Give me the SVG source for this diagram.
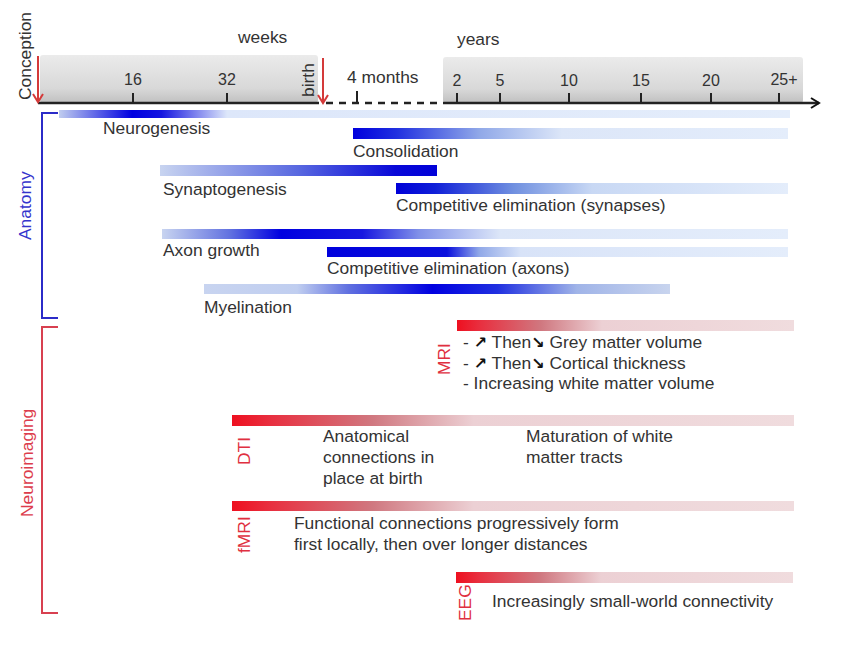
<svg xmlns="http://www.w3.org/2000/svg" width="850" height="653" viewBox="0 0 850 653">
<style>
text{font-family:"Liberation Sans",Arial,sans-serif;font-size:17.4px;fill:#333}
.tk{font-size:16px}
.an{fill:#3434cc}
.ni{fill:#dc3c4c}
.mod{fill:#e03040}
.tick{stroke:#222;stroke-width:2}
.ar{font-family:"DejaVu Sans",sans-serif;font-weight:bold;font-size:16px;fill:#111}
</style>
<defs>
<linearGradient id="gbox" x1="0" y1="0" x2="0" y2="1">
<stop offset="0" stop-color="#ebebeb"/><stop offset="0.7" stop-color="#d8d8d8"/><stop offset="1" stop-color="#c0c0c0"/>
</linearGradient>
<linearGradient id="g1"><stop offset="0" stop-color="#c0cdef"/><stop offset="0.10" stop-color="#0000e0"/><stop offset="0.14" stop-color="#1515e0"/><stop offset="0.23" stop-color="#dde7fa"/><stop offset="1" stop-color="#e4edfb"/></linearGradient>
<linearGradient id="g2"><stop offset="0" stop-color="#0000dd"/><stop offset="0.1" stop-color="#2030e0"/><stop offset="0.29" stop-color="#90a8e8"/><stop offset="0.48" stop-color="#dce6f8"/><stop offset="1" stop-color="#e4edfb"/></linearGradient>
<linearGradient id="g3"><stop offset="0" stop-color="#c8d4f0"/><stop offset="0.5" stop-color="#5868e0"/><stop offset="0.85" stop-color="#0808d8"/><stop offset="1" stop-color="#0000d8"/></linearGradient>
<linearGradient id="g4"><stop offset="0" stop-color="#0000d8"/><stop offset="0.1" stop-color="#1020d8"/><stop offset="0.3" stop-color="#7090e0"/><stop offset="0.5" stop-color="#c8d8f4"/><stop offset="1" stop-color="#e4edfb"/></linearGradient>
<linearGradient id="g5"><stop offset="0" stop-color="#c8d4f0"/><stop offset="0.11" stop-color="#6070e0"/><stop offset="0.19" stop-color="#0000e0"/><stop offset="0.32" stop-color="#1818e0"/><stop offset="0.41" stop-color="#8090e8"/><stop offset="0.54" stop-color="#dce6f8"/><stop offset="1" stop-color="#e4edfb"/></linearGradient>
<linearGradient id="g6"><stop offset="0" stop-color="#0000dd"/><stop offset="0.26" stop-color="#0a10dd"/><stop offset="0.33" stop-color="#90a8e8"/><stop offset="0.42" stop-color="#d8e3f8"/><stop offset="1" stop-color="#e4edfb"/></linearGradient>
<linearGradient id="g7"><stop offset="0" stop-color="#c8d4f0"/><stop offset="0.2" stop-color="#c0cef0"/><stop offset="0.31" stop-color="#6070e0"/><stop offset="0.49" stop-color="#0000e0"/><stop offset="0.63" stop-color="#2030e0"/><stop offset="0.8" stop-color="#a0b4e8"/><stop offset="1" stop-color="#c8d4ee"/></linearGradient>
<linearGradient id="gr"><stop offset="0" stop-color="#ee1020"/><stop offset="0.07" stop-color="#e83040"/><stop offset="0.25" stop-color="#d07880"/><stop offset="0.43" stop-color="#ecd0d4"/><stop offset="1" stop-color="#f0dcde"/></linearGradient>
<marker id="ahk" markerWidth="12" markerHeight="12" refX="10" refY="6" orient="auto" markerUnits="userSpaceOnUse">
<path d="M2,1 L10,6 L2,11" fill="none" stroke="#111" stroke-width="2"/>
</marker>
<marker id="ahr" markerWidth="12" markerHeight="12" refX="10" refY="6" orient="auto" markerUnits="userSpaceOnUse">
<path d="M2,1 L10,6 L2,11" fill="none" stroke="#d43a3a" stroke-width="2"/>
</marker>
</defs>
<rect width="850" height="653" fill="#fff"/>

<g id="timeline">
<rect x="40" y="55" width="278" height="48" rx="3" fill="url(#gbox)"/>
<rect x="443" y="57" width="360" height="46" rx="3" fill="url(#gbox)"/>
<text x="238" y="43">weeks</text>
<text x="457" y="45">years</text>
<text transform="rotate(-90 31 100)" x="31" y="100">Conception</text>
<text transform="rotate(-90 314 97)" x="314" y="97">birth</text>
<text class="tk" x="133" y="85" text-anchor="middle">16</text>
<text class="tk" x="227" y="85" text-anchor="middle">32</text>
<text x="347" y="83">4 months</text>
<text class="tk" x="457" y="86" text-anchor="middle">2</text>
<text class="tk" x="500" y="86" text-anchor="middle">5</text>
<text class="tk" x="569" y="86" text-anchor="middle">10</text>
<text class="tk" x="641" y="86" text-anchor="middle">15</text>
<text class="tk" x="711" y="86" text-anchor="middle">20</text>
<text class="tk" x="784" y="85" text-anchor="middle">25+</text>
<line class="tick" x1="133" y1="93" x2="133" y2="103"/>
<line class="tick" x1="227" y1="93" x2="227" y2="103"/>
<line class="tick" x1="357" y1="91" x2="357" y2="103"/>
<line class="tick" x1="457" y1="93" x2="457" y2="103"/>
<line class="tick" x1="500" y1="93" x2="500" y2="103"/>
<line class="tick" x1="569" y1="93" x2="569" y2="103"/>
<line class="tick" x1="641" y1="93" x2="641" y2="103"/>
<line class="tick" x1="711" y1="93" x2="711" y2="103"/>
<line class="tick" x1="779" y1="93" x2="779" y2="103"/>
</g>

<g id="connectors">
<line x1="38" y1="103" x2="319" y2="103" stroke="#222" stroke-width="2.5"/>
<line x1="326" y1="103" x2="441" y2="103" stroke="#222" stroke-width="2.5" stroke-dasharray="7,6"/>
<line x1="443" y1="103" x2="819" y2="103" stroke="#222" stroke-width="2.5" marker-end="url(#ahk)"/>
<line x1="38" y1="56" x2="38" y2="102" stroke="#d43a3a" stroke-width="2" marker-end="url(#ahr)"/>
<line x1="323" y1="58" x2="323" y2="103" stroke="#d43a3a" stroke-width="2" marker-end="url(#ahr)"/>
</g>

<g id="anatomy-bracket">
<path d="M58,113 H42 V318 H58" fill="none" stroke="#2b2bc8" stroke-width="2"/>
<text class="an" transform="rotate(-90 31 240)" x="31" y="240">Anatomy</text>
</g>
<g id="neuroimaging-bracket">
<path d="M58,327 H42 V613 H58" fill="none" stroke="#d84050" stroke-width="2"/>
<text class="ni" transform="rotate(-90 33 517)" x="33" y="517">Neuroimaging</text>
</g>

<g id="neurogenesis">
<rect x="59" y="110" width="731" height="8" fill="url(#g1)"/>
<text x="103" y="134">Neurogenesis</text>
</g>
<g id="consolidation">
<rect x="353" y="128" width="435" height="11" fill="url(#g2)"/>
<text x="353" y="157">Consolidation</text>
</g>
<g id="synaptogenesis">
<rect x="160" y="165" width="277" height="11" fill="url(#g3)"/>
<text x="163" y="195">Synaptogenesis</text>
</g>
<g id="elim-synapses">
<rect x="396" y="183" width="392" height="11" fill="url(#g4)"/>
<text x="396" y="211">Competitive elimination (synapses)</text>
</g>
<g id="axon-growth">
<rect x="162" y="229" width="626" height="10" fill="url(#g5)"/>
<text x="163" y="256">Axon growth</text>
</g>
<g id="elim-axons">
<rect x="327" y="247" width="461" height="10" fill="url(#g6)"/>
<text x="327" y="274">Competitive elimination (axons)</text>
</g>
<g id="myelination">
<rect x="204" y="284" width="466" height="10" fill="url(#g7)"/>
<text x="204" y="313">Myelination</text>
</g>

<g id="mri">
<rect x="457" y="320" width="337" height="11" fill="url(#gr)"/>
<text class="mod" transform="rotate(-90 450 375)" x="450" y="375">MRI</text>
<text x="463" y="348">- <tspan class="ar">↗</tspan> Then<tspan class="ar">↘</tspan> Grey matter volume</text>
<text x="463" y="368.5">- <tspan class="ar">↗</tspan> Then<tspan class="ar">↘</tspan> Cortical thickness</text>
<text x="463" y="389">- Increasing white matter volume</text>
</g>
<g id="dti">
<rect x="232" y="415" width="562" height="11" fill="url(#gr)"/>
<text class="mod" transform="rotate(-90 250 465)" x="250" y="465">DTI</text>
<text x="323" y="442">Anatomical</text>
<text x="323" y="463">connections in</text>
<text x="323" y="484">place at birth</text>
<text x="526" y="442">Maturation of white</text>
<text x="526" y="463">matter tracts</text>
</g>
<g id="fmri">
<rect x="232" y="501" width="562" height="10" fill="url(#gr)"/>
<text class="mod" transform="rotate(-90 250 553)" x="250" y="553">fMRI</text>
<text x="294" y="529">Functional connections progressively form</text>
<text x="294" y="550">first locally, then over longer distances</text>
</g>
<g id="eeg">
<rect x="456" y="572" width="337" height="11" fill="url(#gr)"/>
<text class="mod" transform="rotate(-90 471 621)" x="471" y="621">EEG</text>
<text x="492" y="607">Increasingly small-world connectivity</text>
</g>
</svg>
